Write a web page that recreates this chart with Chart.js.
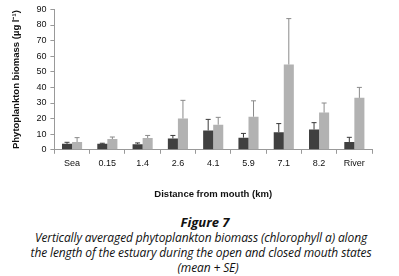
<!DOCTYPE html>
<html>
<head>
<meta charset="utf-8">
<script src="https://cdn.jsdelivr.net/npm/chart.js@4"></script>
<style>
  html, body { margin: 0; padding: 0; background: #fff; }
  #wrap { position: relative; width: 399px; height: 200px; }
  #caption {
    position: absolute; left: 0; top: 215px; width: 402px;
    text-align: center; font-family: "Open Sans", sans-serif; font-style: italic;
    font-size: 12px; line-height: 15px; color: #111; letter-spacing: -0.12px;
  }
  #caption b { font-size: 13px; letter-spacing: 0; padding-left: 8px; }
</style>
</head>
<body>
<div id="wrap"><canvas id="chart" width="399" height="200"></canvas></div>
<div id="caption">
  <b>Figure 7</b><br>
  Vertically averaged phytoplankton biomass (chlorophyll a) along<br>
  the length of the estuary during the open and closed mouth states<br>
  <span style="padding-left:14px">(mean + SE)</span>
</div>
<script>
const categories = ['Sea', '0.15', '1.4', '2.6', '4.1', '5.9', '7.1', '8.2', 'River'];
const openMean = [3.8, 3.8, 3.6, 7.3, 12.4, 7.8, 11.3, 13.0, 5.0];
const openSE = [1.0, 0.4, 0.8, 1.9, 7.1, 2.7, 5.5, 4.4, 3.0];
const closedMean = [5.0, 6.9, 7.5, 20.1, 16.1, 21.2, 54.7, 23.9, 33.3];
const closedSE = [2.8, 1.3, 1.7, 11.6, 4.7, 10.2, 29.4, 6.1, 6.7];
const yTicks = [0, 10, 20, 30, 40, 50, 60, 70, 80, 90];

const errorBars = {
    id: 'errorBars',
    afterDatasetsDraw(chart) {
        const ctx = chart.ctx;
        const yScale = chart.scales.y;
        chart.data.datasets.forEach(function(ds, di) {
            const meta = chart.getDatasetMeta(di);
            meta.data.forEach(function(bar, i) {
                const top = yScale.getPixelForValue(ds.data[i] + ds.se[i]);
                ctx.save();
                ctx.strokeStyle = ds.errColor;
                ctx.lineWidth = 1;
                ctx.beginPath();
                ctx.moveTo(bar.x, bar.y);
                ctx.lineTo(bar.x, top);
                ctx.moveTo(bar.x - 2.5, top);
                ctx.lineTo(bar.x + 2.5, top);
                ctx.stroke();
                ctx.restore();
            });
        });
    }
};

new Chart(document.getElementById('chart'), {
    type: 'bar',
    data: {
        labels: categories,
        datasets: [{
            label: 'Open',
            data: openMean,
            se: openSE,
            errColor: '#3a3a3a',
            backgroundColor: '#404040',
            barPercentage: 1,
            categoryPercentage: 0.57
        }, {
            label: 'Closed',
            data: closedMean,
            se: closedSE,
            errColor: '#8a8a8a',
            backgroundColor: '#b2b2b2',
            barPercentage: 1,
            categoryPercentage: 0.57
        }]
    },
    options: {
        responsive: false,
        animation: false,
        devicePixelRatio: 1,
        layout: { padding: { left: 11, right: 27, top: 5, bottom: 0 } },
        plugins: { legend: { display: false }, tooltip: { enabled: false } },
        scales: {
            x: {
                grid: { offset: true, drawOnChartArea: false, tickLength: 4, color: '#999' },
                border: { color: '#999' },
                ticks: { color: '#111', font: { family: 'Liberation Sans', size: 9 }, padding: 4, maxRotation: 0 },
                title: {
                    display: true, text: 'Distance from mouth (km)', color: '#111',
                    font: { family: 'Liberation Sans', size: 9.5, weight: 'bold' },
                    padding: { top: 16, bottom: 0 }
                }
            },
            y: {
                min: 0, max: 90,
                afterBuildTicks: function(axis) { axis.ticks = yTicks.map(v => ({ value: v })); },
                grid: { drawOnChartArea: false, tickLength: 4, color: '#999' },
                border: { color: '#999' },
                ticks: { color: '#111', font: { family: 'Liberation Sans', size: 9 }, padding: 4 },
                title: {
                    display: true, text: 'Phytoplankton biomass (µg l⁻¹)', color: '#111',
                    font: { family: 'Liberation Sans', size: 9.5, weight: 'bold' },
                    padding: { top: 0, bottom: 10 }
                }
            }
        }
    },
    plugins: [errorBars]
});
</script>
</body>
</html>
